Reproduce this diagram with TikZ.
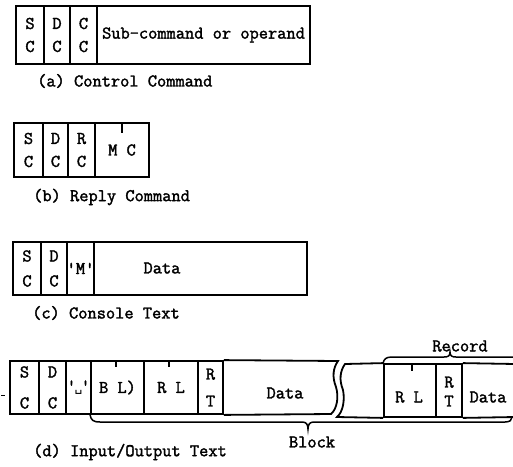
\documentclass[tikz,border=0pt]{standalone}
\usepackage{fontspec}
\newfontfamily\mono{Latin Modern Mono}[FakeBold=1.8]
\newfontfamily\dvmono{DejaVu Sans Mono}
\tikzset{
  cellbox/.style={draw, line width=1.8pt, inner sep=0pt, align=center},
  lbl/.style={inner sep=0pt, align=center, font=\mono\fontsize{17.9}{19}\selectfont},
  ln/.style={line width=1.8pt},
  bracepath/.style={line width=1.5pt},
}
\newcommand\cellat[7]{\node[cellbox, minimum width={(#3-#2)*1pt}, minimum height={(#5-#4)*1pt}, font=\mono\fontsize{17.9}{#6}\selectfont] (#1) at ({(#2+#3)/2},{(#4+#5)/2}) {#7};}
\begin{document}
\begin{tikzpicture}[x=1pt,y=-1pt]
\useasboundingbox (0,0) rectangle (513,466);
% (a) Control Command
\cellat{aS}{16}{44}{6}{64}{23}{S\\C}
\cellat{aD}{44}{70}{6}{64}{23}{D\\C}
\cellat{aC}{70}{97}{6}{64}{23}{C\\C}
\cellat{aX}{97}{310}{6}{64}{23}{Sub-command or operand}
\node[lbl, anchor=west] (acap) at (37,81) {(a) Control Command};
% (b) Reply Command
\cellat{bS}{14}{43}{123}{177}{23}{S\\C}
\cellat{bD}{43}{68}{123}{177}{23}{D\\C}
\cellat{bR}{68}{95}{123}{177}{23}{R\\C}
\cellat{bM}{95}{149}{123}{177}{23}{M C}
\draw[ln] (bM.north) -- ++(0,11);
\node[lbl, anchor=west] (bcap) at (33,197) {(b) Reply Command};
% (c) Console Text
\cellat{cS}{13}{41}{242}{295}{25}{S\\C}
\cellat{cD}{41}{67}{242}{295}{25}{D\\C}
\cellat{cM}{67}{94}{242}{295}{25}{'M'}
\cellat{cX}{94}{307}{242}{295}{25}{}
\node[lbl] (cdata) at (162,268) {Data};
\node[lbl, anchor=west] (ccap) at (32,313) {(c) Console Text};
% (d) Input/Output Text
\coordinate (mk1) at (1,395);
\coordinate (mk2) at (5,395);
\draw[line width=1pt] (mk1) -- (mk2);
\cellat{dS}{10}{39}{361}{414}{31}{S\\C}
\cellat{dD}{39}{66}{361}{414}{31}{D\\C}
\cellat{dQ}{66}{91}{361}{414}{31}{'\kern-1.5pt{\dvmono\fontsize{13}{15}\selectfont ␣}\kern-1.5pt'}
\cellat{dB}{91}{144}{361}{414}{31}{B L)}
\cellat{dR}{144}{198}{361}{414}{31}{R L}
\cellat{dT}{198}{223}{361}{414}{27}{R\\T}
\draw[ln] ([xshift=-1.5pt]dB.north) -- ++(0,7);
\draw[ln] ([xshift=-2pt]dR.north) -- ++(0,7);
\coordinate (w1t) at (338,361);
\coordinate (w1b) at (331,414);
\draw[ln] (dT.north east) -- (w1t) .. controls (333,368) and (332,377) .. (336,387) .. controls (339,397) and (337,409) .. (w1b) -- (dT.south east);
\node[lbl] (ddata) at (285,393) {Data};
% after the break
\coordinate (w2t) at (345,364);
\coordinate (w2b) at (337,417);
\cellat{eR}{384}{436}{364}{417}{23}{}
\cellat{eT}{436}{462}{364}{417}{23}{}
\node[lbl] (eRt) at (409,397) {R L};
\node[lbl] (eTt) at (449,391.5) {R\\T};
\draw[ln] ([xshift=2pt]eR.north) -- ++(0,8);
\coordinate (eEndT) at (515,364);
\coordinate (eEndB) at (515,417);
\draw[ln] (eR.north west) -- (w2t) .. controls (340,371) and (339,380) .. (343,390) .. controls (345,400) and (343,412) .. (w2b) -- (eR.south west);
\draw[ln] (eT.north east) -- (eEndT);
\draw[ln] (eT.south east) -- (eEndB);
\node[lbl] (edata) at (488,397) {Data};
% braces
\coordinate (blkEnd) at (512,417);
\draw[bracepath] (dB.south west) .. controls (91,420) and (93,422) .. (100,422) -- (302,422) .. controls (306,422) and (308,424) .. (308,429) .. controls (308,424) and (310,422) .. (314,422) -- (505,422) .. controls (510,422) and (512,420) .. (blkEnd);
\node[lbl] (blk) at (312,442) {Block};
\coordinate (recEnd) at (515,357);
\draw[bracepath] (eR.north west) .. controls (384,359) and (386,357) .. (392,357) -- (444,357) .. controls (448,357) and (450,356) .. (450,352) .. controls (450,356) and (452,357) .. (456,357) -- (recEnd);
\node[lbl] (rec) at (460,346) {Record};
\node[lbl, anchor=west] (dcap) at (33,452) {(d) Input/Output Text};
\end{tikzpicture}
\end{document}
